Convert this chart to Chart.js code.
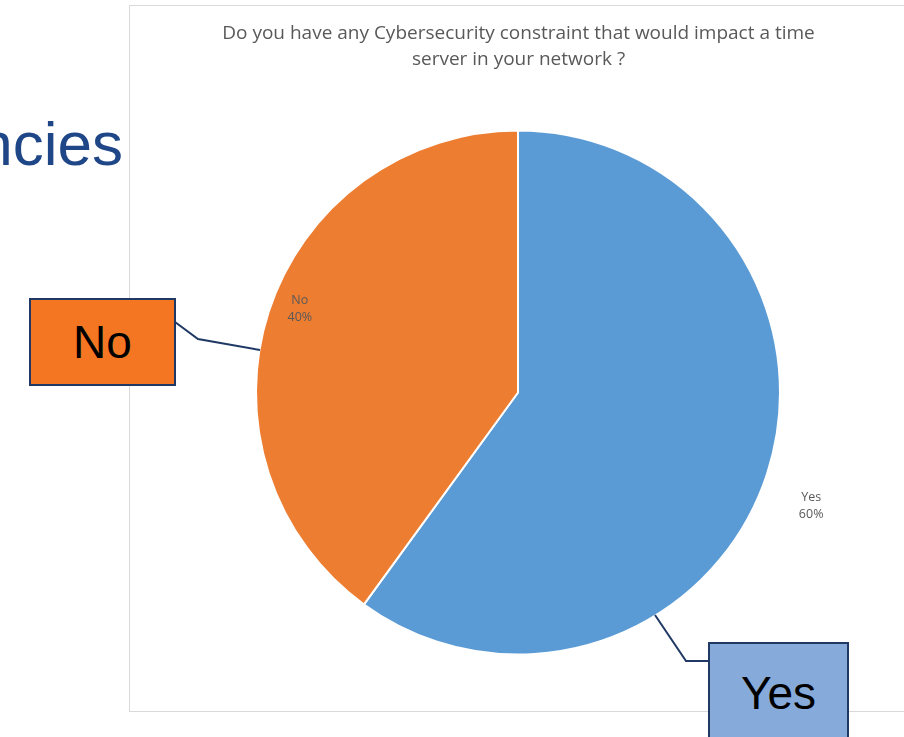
<!DOCTYPE html>
<html>
<head>
<meta charset="utf-8">
<script src="https://cdn.jsdelivr.net/npm/chart.js@4/dist/chart.umd.min.js"></script>
<style>
  html, body { margin: 0; padding: 0; background: #fff; }
  body { width: 904px; height: 737px; overflow: hidden; position: relative; font-family: "Liberation Sans", Arial, sans-serif; }
  #slideTitle { position: absolute; right: 781px; top: 113px; font-size: 62px; color: #1F4788; white-space: nowrap; line-height: 1; }
  #frame { position: absolute; left: 129px; top: 5px; width: 800px; height: 705px; border: 1px solid #D9D9D9; }
  #chart { position: absolute; left: 0; top: 0; }
  #lines { position: absolute; left: 0; top: 0; }
  .callout { position: absolute; border: 2px solid #1F3864; box-sizing: border-box; color: #000; font-size: 46px; display: flex; align-items: center; justify-content: center; }
  #noBox { left: 29px; top: 298px; width: 147px; height: 88px; background: #F47622; }
  #yesBox { left: 708px; top: 642px; width: 141px; height: 110px; background: #86AAD9; align-items: flex-start; padding-top: 22px; }
</style>
</head>
<body>
<div id="slideTitle">ncies</div>
<div id="frame"><canvas id="chart" width="776" height="705"></canvas></div>
<svg id="lines" width="904" height="737">
  <polyline points="175,322 198,339 260,350" fill="none" stroke="#1F3864" stroke-width="2"/>
  <polyline points="655,615 686,661 708,661" fill="none" stroke="#1F3864" stroke-width="2"/>
</svg>
<div class="callout" id="noBox">No</div>
<div class="callout" id="yesBox">Yes</div>
<script>
const categories = ['Yes', 'No'];
const shares = [60, 40];
const sliceColors = ['#5B9BD5', '#ED7D31'];
const titleLines = ['Do you have any Cybersecurity constraint that would impact a time', 'server in your network ?'];
const pctLabels = ['60%', '40%'];

// label offsets from the slice's outer edge midpoint (style only)
const labelOffsets = [{dx: 44, dy: 32}, {dx: 31, dy: -3}];

const titlePlugin = {
  id: 'excelTitle',
  afterDraw(chart) {
    const ctx = chart.ctx;
    ctx.save();
    ctx.fillStyle = '#595959';
    ctx.font = '19px "Open Sans"';
    ctx.textAlign = 'center';
    ctx.textBaseline = 'middle';
    const cx = chart.width / 2;
    titleLines.forEach((t, i) => ctx.fillText(t, cx + 0.5, 28 + i * 26));
    ctx.restore();
  }
};

const labelPlugin = {
  id: 'sliceLabels',
  afterDatasetsDraw(chart) {
    const ctx = chart.ctx;
    const meta = chart.getDatasetMeta(0);
    ctx.save();
    ctx.fillStyle = '#595959';
    ctx.font = '12.5px "Open Sans"';
    ctx.textAlign = 'center';
    ctx.textBaseline = 'middle';
    meta.data.forEach((arc, i) => {
      const p = arc.getProps(['x', 'y', 'startAngle', 'endAngle', 'outerRadius'], true);
      const mid = (p.startAngle + p.endAngle) / 2;
      const ex = p.x + Math.cos(mid) * p.outerRadius + labelOffsets[i].dx;
      const ey = p.y + Math.sin(mid) * p.outerRadius + labelOffsets[i].dy;
      ctx.fillText(categories[i], ex, ey - 8.5);
      ctx.fillText(pctLabels[i], ex, ey + 8.5);
    });
    ctx.restore();
  }
};

new Chart(document.getElementById('chart'), {
  type: 'pie',
  data: {
    labels: categories,
    datasets: [{
      data: shares,
      backgroundColor: sliceColors,
      borderColor: '#FFFFFF',
      borderWidth: 2,
      radius: 262
    }]
  },
  options: {
    responsive: false,
    animation: false,
    layout: { padding: { top: 120, bottom: 52, left: 0, right: 0 } },
    plugins: {
      legend: { display: false },
      title: { display: false },
      tooltip: { enabled: false }
    }
  },
  plugins: [titlePlugin, labelPlugin]
});
</script>
</body>
</html>
